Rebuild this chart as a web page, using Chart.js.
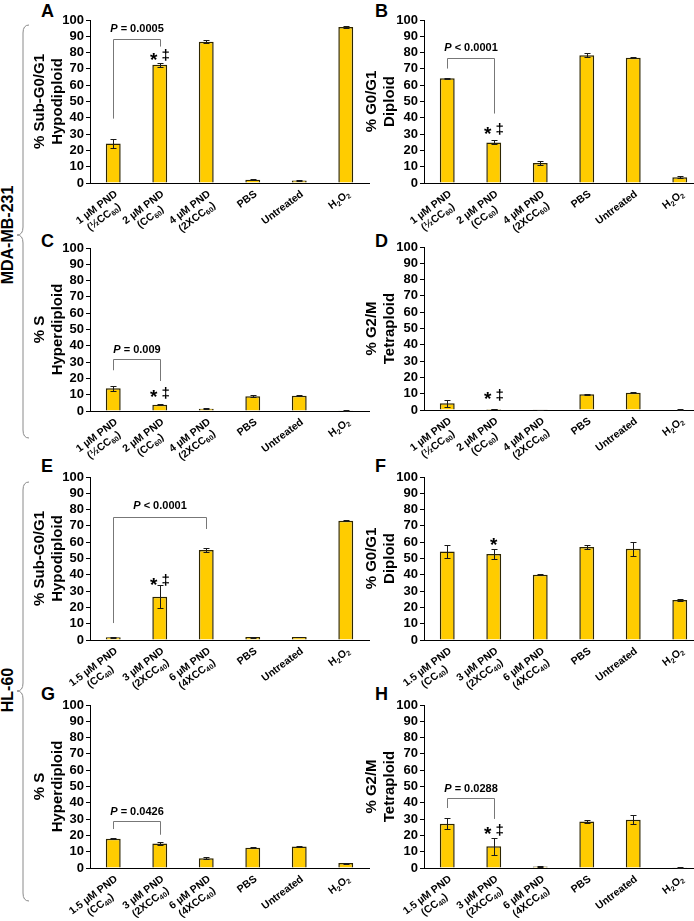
<!DOCTYPE html>
<html>
<head>
<meta charset="utf-8">
<script src="https://cdn.jsdelivr.net/npm/chart.js@4/dist/chart.umd.min.js"></script>
<style>
  html, body { margin: 0; padding: 0; background: #fff; overflow: hidden; }
  #wrap { position: relative; width: 694px; height: 921px; overflow: hidden; font-family: "Liberation Sans", Arial, sans-serif; }
  canvas { position: absolute; }
  .letter { position: absolute; font: bold 18px "Liberation Sans", Arial, sans-serif; line-height: 1; }
  .cell { position: absolute; font: bold 16px "Liberation Sans", Arial, sans-serif; white-space: nowrap;
          transform: translate(-50%, -50%) rotate(-90deg); }
  svg { position: absolute; left: 0; top: 0; }
</style>
</head>
<body>
<div id="wrap">
  <svg width="40" height="921">
    <path d="M29,25 Q23,25 23,33 L23,227 Q23,235 17,235 Q23,235 23,243 L23,430 Q23,438 29,438" fill="none" stroke="#8a8a8a" stroke-width="1"/>
    <path d="M29,482 Q23,482 23,490 L23,683 Q23,691 17,691 Q23,691 23,699 L23,893 Q23,901 29,901" fill="none" stroke="#8a8a8a" stroke-width="1"/>
  </svg>
  <div class="cell" style="left:8px; top:235px;">MDA-MB-231</div>
  <div class="cell" style="left:8px; top:690px;">HL-60</div>
  <div class="letter" style="left:41px; top:2px;">A</div>
  <div class="letter" style="left:375px; top:2px;">B</div>
  <div class="letter" style="left:41px; top:232px;">C</div>
  <div class="letter" style="left:375px; top:232px;">D</div>
  <div class="letter" style="left:41px; top:457px;">E</div>
  <div class="letter" style="left:375px; top:457px;">F</div>
  <div class="letter" style="left:41px; top:685px;">G</div>
  <div class="letter" style="left:375px; top:685px;">H</div>
</div>
<script>
const FONT = '"Liberation Sans", Arial, sans-serif';
const GOLD = '#FFCC00';
const EDGE = '#2e2600';

// categories
const mdaLabels = [['1 µM PND', '(½CC₆₀)'], ['2 µM PND', '(CC₆₀)'], ['4 µM PND', '(2XCC₆₀)'], 'PBS', 'Untreated', 'H₂O₂'];
const hlLabels  = [['1.5 µM PND', '(CC₄₀)'], ['3 µM PND', '(2XCC₄₀)'], ['6 µM PND', '(4XCC₄₀)'], 'PBS', 'Untreated', 'H₂O₂'];
const yTicks = [0, 10, 20, 30, 40, 50, 60, 70, 80, 90, 100];

// MDA-MB-231
const mdaSubG1    = [24.2, 72.6, 86.7, 2.0, 1.6, 95.7];
const mdaSubG1Err = [3.0, 1.3, 1.1, 0.3, 0.3, 0.6];
const mdaG0G1     = [64.3, 24.9, 12.2, 78.3, 76.8, 3.6];
const mdaG0G1Err  = [0.4, 1.2, 1.3, 1.3, 0.4, 0.6];
const mdaS        = [14.0, 3.8, 1.4, 9.0, 9.3, 0.4];
const mdaSErr     = [1.5, 0.4, 0.3, 0.7, 0.4, 0.1];
const mdaG2M      = [4.2, 0.6, 0.2, 9.6, 10.6, 0.3];
const mdaG2MErr   = [2.1, 0.2, 0.1, 0.5, 0.2, 0.1];

// HL-60
const hlSubG1    = [1.7, 26.6, 55.2, 1.8, 1.8, 73.2];
const hlSubG1Err = [0.3, 7.1, 1.0, 0.3, 0.2, 0.3];
const hlG0G1     = [54.3, 52.8, 40.1, 57.1, 56.0, 24.6];
const hlG0G1Err  = [3.7, 2.8, 0.5, 1.2, 4.2, 0.5];
const hlS        = [17.9, 15.0, 6.0, 12.5, 13.2, 3.0];
const hlSErr     = [0.4, 0.8, 0.6, 0.2, 0.5, 0.3];
const hlG2M      = [27.2, 13.4, 0.9, 28.6, 29.6, 0.4];
const hlG2MErr   = [3.2, 5.3, 0.2, 0.8, 2.8, 0.1];

// split a label into normal / subscript runs so subscripts can be drawn small and low
const SUB = '₀₁₂₃₄₅₆₇₈₉';
function runs(text) {
  const out = [];
  for (const ch of text) {
    const k = SUB.indexOf(ch);
    const sub = k >= 0;
    const c = sub ? String(k) : ch;
    const last = out[out.length - 1];
    if (last && last.sub === sub) last.t += c;
    else out.push({ t: c, sub });
  }
  return out;
}
const LSIZE = 10.5;
function runFont(r) { return 'bold ' + (r.sub ? LSIZE * 0.68 : LSIZE) + 'px ' + FONT; }
function runsWidth(ctx, rs) {
  let w = 0;
  rs.forEach(r => { ctx.font = runFont(r); w += ctx.measureText(r.t).width; });
  return w;
}
function drawRuns(ctx, rs, x, y) {
  rs.forEach(r => {
    ctx.font = runFont(r);
    ctx.fillText(r.t, x, r.sub ? y + 3 : y);
    x += ctx.measureText(r.t).width;
  });
}

// error bars, significance bracket, marks over the second bar, rotated category labels
function annot(o) {
  return {
    id: 'annot',
    afterDatasetsDraw(chart) {
      const { ctx, scales: { x, y } } = chart;
      const bars = chart.getDatasetMeta(0).data;
      ctx.save();
      ctx.strokeStyle = '#1a1a1a';
      ctx.lineWidth = 1;
      o.values.forEach((v, i) => {
        const e = o.errors[i];
        const bx = Math.round(bars[i].x) + 0.5;
        const t = Math.round(y.getPixelForValue(v + e)) + 0.5;
        const b = Math.round(y.getPixelForValue(Math.max(0, v - e))) + 0.5;
        ctx.beginPath();
        ctx.moveTo(bx, t); ctx.lineTo(bx, b);
        ctx.moveTo(bx - 3, t); ctx.lineTo(bx + 3, t);
        ctx.moveTo(bx - 3, b); ctx.lineTo(bx + 3, b);
        ctx.stroke();
      });
      const br = o.bracket;
      if (br) {
        const x1 = Math.round(x.getPixelForValue(br.from)) + 0.5;
        const x2 = Math.round(x.getPixelForValue(br.to)) + 0.5;
        const yt = Math.round(y.getPixelForValue(br.top)) + 0.5;
        ctx.strokeStyle = '#777';
        ctx.beginPath();
        ctx.moveTo(x1, y.getPixelForValue(br.left));
        ctx.lineTo(x1, yt); ctx.lineTo(x2, yt);
        ctx.lineTo(x2, y.getPixelForValue(br.right));
        ctx.stroke();
        const it = 'italic bold 11px ' + FONT, bd = 'bold 11px ' + FONT;
        ctx.font = it; const w1 = ctx.measureText('P').width;
        ctx.font = bd; const w2 = ctx.measureText(br.text).width;
        const tx = (x1 + x2) / 2 - (w1 + w2) / 2;
        const ty = y.getPixelForValue(br.textY);
        ctx.fillStyle = '#000';
        ctx.textBaseline = 'middle';
        ctx.textAlign = 'left';
        ctx.font = it; ctx.fillText('P', tx, ty);
        ctx.font = bd; ctx.fillText(br.text, tx + w1, ty);
      }
      if (o.star) {
        // asterisk sits high in the font, so it is nudged down to line up with the dagger
        const sx = x.getPixelForValue(1), sy = y.getPixelForValue(o.star.y);
        ctx.fillStyle = '#000';
        ctx.textBaseline = 'middle';
        ctx.textAlign = 'center';
        ctx.font = 'bold 19px ' + FONT;
        if (o.star.dagger) {
          ctx.fillText('*', sx - 6, sy + 4);
          ctx.font = 'bold 15px ' + FONT;
          ctx.fillText('‡', sx + 6, sy);
        } else {
          ctx.fillText('*', sx, sy + 4);
        }
      }
      // category labels: first line ends just right of the bar, second line centred under it
      const ang = -37 * Math.PI / 180;
      ctx.fillStyle = '#000';
      ctx.textAlign = 'left';
      ctx.textBaseline = 'middle';
      o.labels.forEach((lab, i) => {
        const lines = (Array.isArray(lab) ? lab : [lab]).map(runs);
        const w0 = runsWidth(ctx, lines[0]);
        ctx.save();
        ctx.translate(x.getPixelForValue(i) + 3, x.top + 10);
        ctx.rotate(ang);
        lines.forEach((rs, k) => {
          const w = runsWidth(ctx, rs);
          drawRuns(ctx, rs, -w0 / 2 - w / 2, k * 12);
        });
        ctx.restore();
      });
      ctx.restore();
    }
  };
}

function panel(o) {
  const cv = document.createElement('canvas');
  const left = o.col === 0 ? 0 : 330;
  const w = o.col === 0 ? 372 : 373;
  const h = 250;
  cv.width = w; cv.height = h;
  cv.style.left = left + 'px';
  cv.style.top = (o.plotTop - 20) + 'px';
  document.getElementById('wrap').appendChild(cv);
  const yW = o.col === 0 ? 90 : 94;
  const titlePad = o.col === 0 ? 31 : 33;
  new Chart(cv, {
    type: 'bar',
    data: {
      labels: o.labels,
      datasets: [{
        data: o.values,
        backgroundColor: GOLD,
        borderColor: EDGE,
        borderWidth: 1.5,
        barPercentage: 0.32,
        categoryPercentage: 1,
      }],
    },
    options: {
      responsive: false, animation: false,
      layout: { padding: { left: 0, top: 20, right: o.col === 0 ? 3 : 0, bottom: 0 } },
      plugins: { legend: { display: false }, tooltip: { enabled: false } },
      scales: {
        x: {
          grid: { display: false, drawTicks: false },
          border: { display: true, color: '#000', width: 1 },
          ticks: { display: false },
          afterFit: s => { s.height = h - 20 - 163; s.paddingLeft = 0; s.paddingRight = 0; },
        },
        y: {
          min: yTicks[0], max: yTicks[yTicks.length - 1],
          grid: { display: true, drawOnChartArea: false, drawTicks: true, tickLength: 4, color: '#000' },
          border: { display: true, color: '#000', width: 1 },
          ticks: { autoSkip: false, stepSize: yTicks[1] - yTicks[0], padding: 2, color: '#000',
                   font: { family: FONT, size: 13, weight: 'bold' } },
          title: { display: true, text: o.title, color: '#000', padding: { top: titlePad, bottom: 0 },
                   font: { family: FONT, size: 15, weight: 'bold', lineHeight: 1.2 } },
          afterFit: s => { s.width = yW; s.paddingTop = 0; s.paddingBottom = 0; },
        },
      },
    },
    plugins: [annot(o)],
  });
}

panel({ col: 0, plotTop: 20, labels: mdaLabels, values: mdaSubG1, errors: mdaSubG1Err,
        title: ['% Sub-G0/G1', 'Hypodiploid'],
        bracket: { from: 0, to: 1, left: 39.5, top: 88.3, right: 83.7, textY: 94.2, text: ' = 0.0005' },
        star: { y: 77.7, dagger: true } });
panel({ col: 1, plotTop: 20, labels: mdaLabels, values: mdaG0G1, errors: mdaG0G1Err,
        title: ['% G0/G1', 'Diploid'],
        bracket: { from: 0, to: 1, left: 70.2, top: 76.9, right: 42.6, textY: 82.8, text: ' < 0.0001' },
        star: { y: 32.3, dagger: true } });
panel({ col: 0, plotTop: 248, labels: mdaLabels, values: mdaS, errors: mdaSErr,
        title: ['% S', 'Hyperdiploid'],
        bracket: { from: 0, to: 1, left: 25, top: 32.1, right: 18.4, textY: 37.7, text: ' = 0.009' },
        star: { y: 10.7, dagger: true } });
panel({ col: 1, plotTop: 247, labels: mdaLabels, values: mdaG2M, errors: mdaG2MErr,
        title: ['% G2/M', 'Tetraploid'],
        star: { y: 8.6, dagger: true } });
panel({ col: 0, plotTop: 477, labels: hlLabels, values: hlSubG1, errors: hlSubG1Err,
        title: ['% Sub-G0/G1', 'Hypodiploid'],
        bracket: { from: 0, to: 2, left: 10.4, top: 75.5, right: 68.1, textY: 82, text: ' < 0.0001' },
        star: { y: 36, dagger: true } });
panel({ col: 1, plotTop: 477, labels: hlLabels, values: hlG0G1, errors: hlG0G1Err,
        title: ['% G0/G1', 'Diploid'],
        star: { y: 60.5, dagger: false } });
panel({ col: 0, plotTop: 705, labels: hlLabels, values: hlS, errors: hlSErr,
        title: ['% S', 'Hyperdiploid'],
        bracket: { from: 0, to: 1, left: 23.9, top: 28.6, right: 20.4, textY: 34.1, text: ' = 0.0426' } });
panel({ col: 1, plotTop: 705, labels: hlLabels, values: hlG2M, errors: hlG2MErr,
        title: ['% G2/M', 'Tetraploid'],
        bracket: { from: 0, to: 1, left: 36.8, top: 42.9, right: 30.1, textY: 48.6, text: ' = 0.0288' },
        star: { y: 23, dagger: true } });
</script>
</body>
</html>
